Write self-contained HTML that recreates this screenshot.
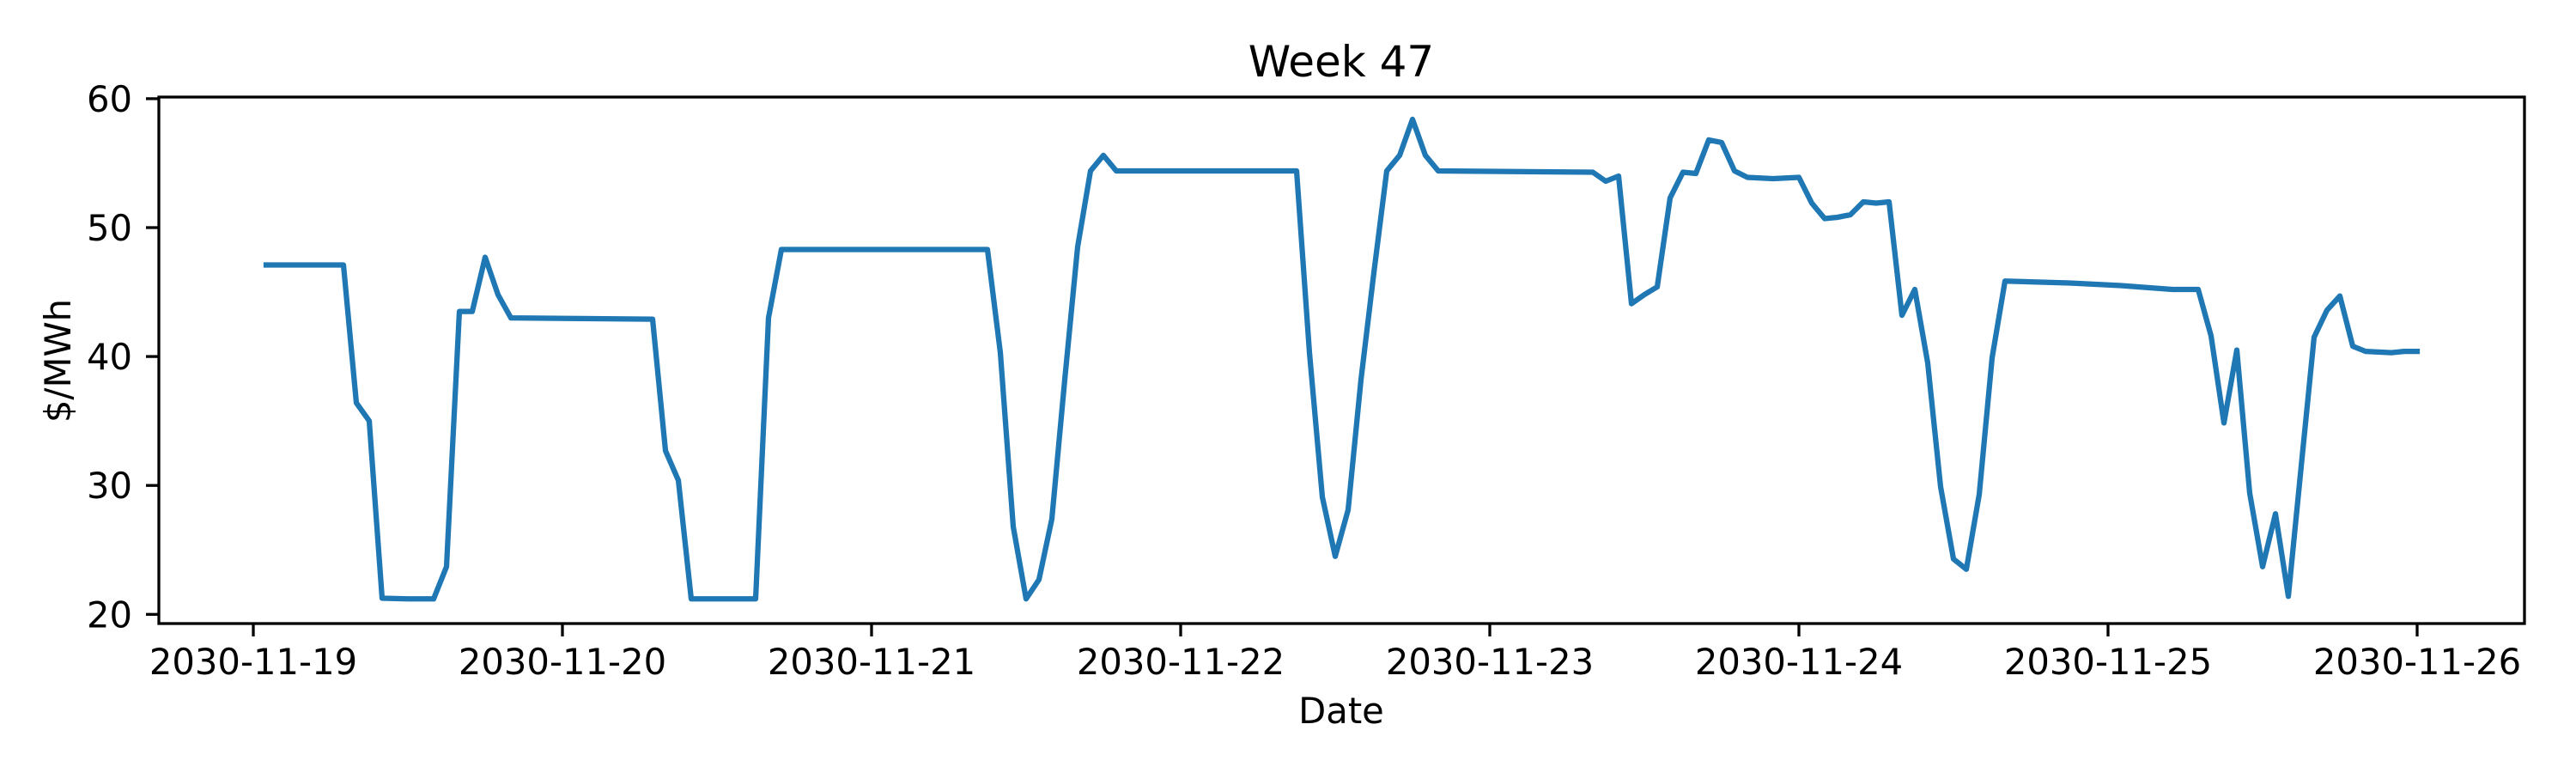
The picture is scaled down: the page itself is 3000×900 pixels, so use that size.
<!DOCTYPE html>
<html><head><meta charset="utf-8"><style>
html,body{margin:0;padding:0;background:#fff;}
svg{display:block;font-family:"DejaVu Sans","Liberation Sans",sans-serif;}
</style></head><body>
<svg id="chart" width="3000" height="900" viewBox="0 0 3000 900" xmlns="http://www.w3.org/2000/svg">
<rect width="3000" height="900" fill="#fff"/>
<text x="1562" y="89" font-size="50" text-anchor="middle">Week 47</text>
<text x="1562" y="842" font-size="41.7" text-anchor="middle">Date</text>
<text transform="translate(82,420) rotate(-90)" font-size="41.7" text-anchor="middle">$/MWh</text>
<g id="ticks"></g>
<path id="series" fill="none" stroke="#1f77b4" stroke-width="6.25" stroke-linejoin="round" stroke-linecap="square"/>
<rect x="185" y="113" width="2755" height="613" fill="none" stroke="#000" stroke-width="3.3"/>
</svg>
<script>
// hours since 2030-11-19 00:00 (vertices of the hourly series)
const hours = [1,7,8,9,10,12,14,15,16,17,18,19,20,31,32,33,34,39,40,41,57,58,59,60,61,62,63,64,65,66,67,81,82,83,84,85,86,87,88,89,90,91,92,104,105,106,107,108,109,110,111,112,113,114,115,116,118,120,121,122,123,124,125,126,127,128,129,130,131,132,133,134,135,136,141,145,149,151,152,153,154,155,156,157,158,159,160,161,162,163,164,166,167,168];
const prices = [47.1,47.1,36.4,35.0,21.25,21.2,21.2,23.7,43.5,43.5,47.7,44.8,43.0,42.9,32.7,30.4,21.2,21.2,43.0,48.3,48.3,40.3,26.8,21.2,22.7,27.4,38.2,48.5,54.4,55.6,54.4,54.4,40.3,29.1,24.5,28.1,38.2,46.5,54.4,55.6,58.4,55.6,54.4,54.3,53.6,54.0,44.1,44.8,45.4,52.3,54.3,54.2,56.8,56.6,54.4,53.9,53.8,53.9,51.9,50.7,50.8,51.0,52.0,51.9,52.0,43.2,45.2,39.5,29.9,24.3,23.5,29.3,39.9,45.85,45.7,45.5,45.2,45.2,41.6,34.85,40.5,29.4,23.7,27.8,21.4,31.5,41.5,43.6,44.7,40.8,40.4,40.3,40.4,40.4];
const yTicks = [20,30,40,50,60];
const xTickLabels = ["2030-11-19","2030-11-20","2030-11-21","2030-11-22","2030-11-23","2030-11-24","2030-11-25","2030-11-26"];

const NS = "http://www.w3.org/2000/svg";
function xScale(h){ return 295 + h * 360 / 24; }
function yScale(v){ return 715.3 - (v - 20) * 15.01; }

const tg = document.getElementById('ticks');
yTicks.forEach(v => {
  const y = yScale(v);
  const l = document.createElementNS(NS,'line');
  l.setAttribute('x1',170); l.setAttribute('x2',185); l.setAttribute('y1',y); l.setAttribute('y2',y);
  l.setAttribute('stroke','#000'); l.setAttribute('stroke-width','3.3');
  
  
  tg.appendChild(l);
  const t = document.createElementNS(NS,'text');
  t.setAttribute('x',154); t.setAttribute('y',y+15); t.setAttribute('font-size','41.7'); t.setAttribute('text-anchor','end');
  t.textContent = v;
  
  
  tg.appendChild(t);
});
xTickLabels.forEach((s,i) => {
  const x = xScale(i*24);
  const l = document.createElementNS(NS,'line');
  l.setAttribute('x1',x); l.setAttribute('x2',x); l.setAttribute('y1',726); l.setAttribute('y2',741);
  l.setAttribute('stroke','#000'); l.setAttribute('stroke-width','3.3');
  
  
  tg.appendChild(l);
  const t = document.createElementNS(NS,'text');
  t.setAttribute('x',x); t.setAttribute('y',785); t.setAttribute('font-size','41.7'); t.setAttribute('text-anchor','middle');
  t.textContent = s;
  
  
  tg.appendChild(t);
});
const d = hours.map((h,i) => (i?'L':'M') + xScale(h).toFixed(1) + ',' + yScale(prices[i]).toFixed(1)).join(' ');
document.getElementById('series').setAttribute('d', d);
</script>
</body></html>
